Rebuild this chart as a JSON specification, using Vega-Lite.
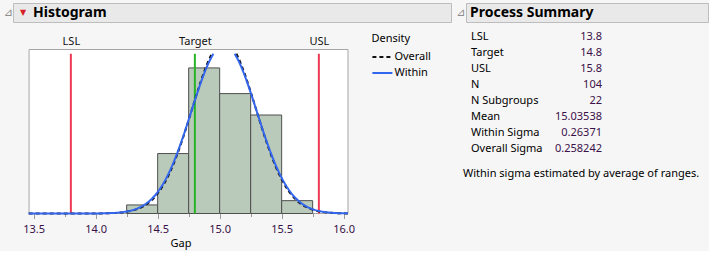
{
  "$schema": "https://vega.github.io/schema/vega-lite/v6.json",
  "background": "#f6f6f6",
  "padding": {"left": 3, "top": 2, "right": 2, "bottom": 2},
  "config": {"font": "Noto Sans", "view": {"stroke": null}},
  "datasets": {
    "bins": [
      {"lo": 14.25, "hi": 14.5, "count": 2},
      {"lo": 14.5, "hi": 14.75, "count": 14},
      {"lo": 14.75, "hi": 15.0, "count": 34},
      {"lo": 15.0, "hi": 15.25, "count": 28},
      {"lo": 15.25, "hi": 15.5, "count": 23},
      {"lo": 15.5, "hi": 15.75, "count": 3}
    ],
    "specs": [
      {"name": "LSL", "value": 13.8},
      {"name": "Target", "value": 14.8},
      {"name": "USL", "value": 15.8}
    ],
    "curves": [
      {"series": "Overall", "seg": "L", "x": 13.46, "y": 0},
      {"series": "Overall", "seg": "L", "x": 13.8, "y": 0.0005},
      {"series": "Overall", "seg": "L", "x": 14.0, "y": 0.013},
      {"series": "Overall", "seg": "L", "x": 14.1, "y": 0.057},
      {"series": "Overall", "seg": "L", "x": 14.2, "y": 0.215},
      {"series": "Overall", "seg": "L", "x": 14.25, "y": 0.394},
      {"series": "Overall", "seg": "L", "x": 14.3, "y": 0.697},
      {"series": "Overall", "seg": "L", "x": 14.35, "y": 1.187},
      {"series": "Overall", "seg": "L", "x": 14.4, "y": 1.948},
      {"series": "Overall", "seg": "L", "x": 14.45, "y": 3.076},
      {"series": "Overall", "seg": "L", "x": 14.5, "y": 4.683},
      {"series": "Overall", "seg": "L", "x": 14.55, "y": 6.866},
      {"series": "Overall", "seg": "L", "x": 14.6, "y": 9.697},
      {"series": "Overall", "seg": "L", "x": 14.65, "y": 13.191},
      {"series": "Overall", "seg": "L", "x": 14.7, "y": 17.283},
      {"series": "Overall", "seg": "L", "x": 14.75, "y": 21.811},
      {"series": "Overall", "seg": "L", "x": 14.8, "y": 26.511},
      {"series": "Overall", "seg": "L", "x": 14.85, "y": 31.044},
      {"series": "Overall", "seg": "L", "x": 14.9, "y": 35.009},
      {"series": "Overall", "seg": "L", "x": 14.936, "y": 37.3},
      {"series": "Overall", "seg": "R", "x": 15.135, "y": 37.3},
      {"series": "Overall", "seg": "R", "x": 15.15, "y": 36.398},
      {"series": "Overall", "seg": "R", "x": 15.2, "y": 32.781},
      {"series": "Overall", "seg": "R", "x": 15.25, "y": 28.437},
      {"series": "Overall", "seg": "R", "x": 15.3, "y": 23.76},
      {"series": "Overall", "seg": "R", "x": 15.35, "y": 19.122},
      {"series": "Overall", "seg": "R", "x": 15.4, "y": 14.823},
      {"series": "Overall", "seg": "R", "x": 15.45, "y": 11.069},
      {"series": "Overall", "seg": "R", "x": 15.5, "y": 7.961},
      {"series": "Overall", "seg": "R", "x": 15.55, "y": 5.515},
      {"series": "Overall", "seg": "R", "x": 15.6, "y": 3.68},
      {"series": "Overall", "seg": "R", "x": 15.65, "y": 2.365},
      {"series": "Overall", "seg": "R", "x": 15.7, "y": 1.465},
      {"series": "Overall", "seg": "R", "x": 15.75, "y": 0.873},
      {"series": "Overall", "seg": "R", "x": 15.8, "y": 0.502},
      {"series": "Overall", "seg": "R", "x": 15.9, "y": 0.148},
      {"series": "Overall", "seg": "R", "x": 16.0, "y": 0.0375},
      {"series": "Overall", "seg": "R", "x": 16.035, "y": 0.02},
      {"series": "Within", "seg": "L", "x": 13.46, "y": 0},
      {"series": "Within", "seg": "L", "x": 13.8, "y": 0.001},
      {"series": "Within", "seg": "L", "x": 14.0, "y": 0.018},
      {"series": "Within", "seg": "L", "x": 14.1, "y": 0.073},
      {"series": "Within", "seg": "L", "x": 14.2, "y": 0.26},
      {"series": "Within", "seg": "L", "x": 14.25, "y": 0.467},
      {"series": "Within", "seg": "L", "x": 14.3, "y": 0.806},
      {"series": "Within", "seg": "L", "x": 14.35, "y": 1.343},
      {"series": "Within", "seg": "L", "x": 14.4, "y": 2.159},
      {"series": "Within", "seg": "L", "x": 14.45, "y": 3.347},
      {"series": "Within", "seg": "L", "x": 14.5, "y": 5.008},
      {"series": "Within", "seg": "L", "x": 14.55, "y": 7.23},
      {"series": "Within", "seg": "L", "x": 14.6, "y": 10.067},
      {"series": "Within", "seg": "L", "x": 14.65, "y": 13.521},
      {"series": "Within", "seg": "L", "x": 14.7, "y": 17.52},
      {"series": "Within", "seg": "L", "x": 14.75, "y": 21.9},
      {"series": "Within", "seg": "L", "x": 14.8, "y": 26.408},
      {"series": "Within", "seg": "L", "x": 14.85, "y": 30.723},
      {"series": "Within", "seg": "L", "x": 14.9, "y": 34.477},
      {"series": "Within", "seg": "L", "x": 14.949, "y": 37.3},
      {"series": "Within", "seg": "R", "x": 15.121, "y": 37.3},
      {"series": "Within", "seg": "R", "x": 15.15, "y": 35.788},
      {"series": "Within", "seg": "R", "x": 15.2, "y": 32.37},
      {"series": "Within", "seg": "R", "x": 15.25, "y": 28.245},
      {"series": "Within", "seg": "R", "x": 15.3, "y": 23.775},
      {"series": "Within", "seg": "R", "x": 15.35, "y": 19.305},
      {"series": "Within", "seg": "R", "x": 15.4, "y": 15.122},
      {"series": "Within", "seg": "R", "x": 15.45, "y": 11.428},
      {"series": "Within", "seg": "R", "x": 15.5, "y": 8.331},
      {"series": "Within", "seg": "R", "x": 15.55, "y": 5.859},
      {"series": "Within", "seg": "R", "x": 15.6, "y": 3.975},
      {"series": "Within", "seg": "R", "x": 15.65, "y": 2.601},
      {"series": "Within", "seg": "R", "x": 15.7, "y": 1.643},
      {"series": "Within", "seg": "R", "x": 15.75, "y": 1.001},
      {"series": "Within", "seg": "R", "x": 15.8, "y": 0.588},
      {"series": "Within", "seg": "R", "x": 15.9, "y": 0.182},
      {"series": "Within", "seg": "R", "x": 16.0, "y": 0.049},
      {"series": "Within", "seg": "R", "x": 16.035, "y": 0.03}
    ],
    "summary": [
      {"row": 1, "label": "LSL", "value": "13.8"},
      {"row": 2, "label": "Target", "value": "14.8"},
      {"row": 3, "label": "USL", "value": "15.8"},
      {"row": 4, "label": "N", "value": "104"},
      {"row": 5, "label": "N Subgroups", "value": "22"},
      {"row": 6, "label": "Mean", "value": "15.03538"},
      {"row": 7, "label": "Within Sigma", "value": "0.26371"},
      {"row": 8, "label": "Overall Sigma", "value": "0.258242"}
    ]
  },
  "spacing": 7.5,
  "vconcat": [
    {
      "spacing": 3,
      "hconcat": [
        {
          "width": 438,
          "height": 19,
          "view": {"fill": "#e9e9e9", "stroke": "#bdbdbd"},
          "data": {"values": [{"t": "Histogram"}]},
          "layer": [
            {
              "mark": {"type": "text", "text": "⊿", "align": "left", "baseline": "middle", "dx": -9.5, "fontSize": 11, "font": "DejaVu Sans", "color": "#8c8c8c"},
              "encoding": {"x": {"datum": 0, "type": "quantitative", "scale": {"domain": [0, 1]}, "axis": null}}
            },
            {
              "mark": {"type": "text", "text": "▼", "align": "center", "baseline": "middle", "dx": 10, "fontSize": 8, "font": "DejaVu Sans", "color": "#d81f26"},
              "encoding": {"x": {"datum": 0, "type": "quantitative"}}
            },
            {
              "mark": {"type": "text", "align": "left", "baseline": "middle", "dx": 20, "fontSize": 14, "fontWeight": "bold", "color": "#000000"},
              "encoding": {"x": {"datum": 0, "type": "quantitative"}, "text": {"field": "t"}}
            }
          ]
        },
        {
          "width": 242,
          "height": 19,
          "view": {"fill": "#e9e9e9", "stroke": "#bdbdbd"},
          "data": {"values": [{"t": "Process Summary"}]},
          "layer": [
            {
              "mark": {"type": "text", "text": "⊿", "align": "left", "baseline": "middle", "dx": -10, "fontSize": 11, "font": "DejaVu Sans", "color": "#8c8c8c"},
              "encoding": {"x": {"datum": 0, "type": "quantitative", "scale": {"domain": [0, 1]}, "axis": null}}
            },
            {
              "mark": {"type": "text", "align": "left", "baseline": "middle", "dx": 4, "fontSize": 14, "fontWeight": "bold", "color": "#000000"},
              "encoding": {"x": {"datum": 0, "type": "quantitative"}, "text": {"field": "t"}}
            }
          ]
        }
      ]
    },
    {
      "spacing": 31,
      "hconcat": [
        {
          "width": 335,
          "height": 164,
          "resolve": {"axis": {"x": "independent"}, "scale": {"color": "independent"}},
          "layer": [
            {
              "data": {"values": [{"x0": 13.463, "x1": 16.035, "y0": 0, "y1": 38.3}]},
              "mark": {"type": "rect", "fill": "#ffffff", "stroke": "#a6a6a6", "strokeWidth": 1},
              "encoding": {
                "x": {"field": "x0", "type": "quantitative", "scale": {"domain": [13.3334, 16.035], "nice": false, "zero": false}, "axis": null},
                "x2": {"field": "x1"},
                "y": {"field": "y0", "type": "quantitative", "scale": {"domain": [0, 38.3], "nice": false}, "axis": null},
                "y2": {"field": "y1"}
              }
            },
            {
              "data": {"name": "bins"},
              "mark": {"type": "rect", "fill": "#b9c9ba", "stroke": "#4f4f4f", "strokeWidth": 1},
              "encoding": {
                "x": {
                  "field": "lo", "type": "quantitative",
                  "axis": {
                    "orient": "bottom", "title": "Gap",
                    "values": [13.5, 13.75, 14.0, 14.25, 14.5, 14.75, 15.0, 15.25, 15.5, 15.75, 16.0],
                    "labelExpr": "datum.value % 0.5 == 0 ? format(datum.value, '.1f') : ''",
                    "tickSize": {"condition": {"test": "datum.value % 0.5 == 0", "value": 5}, "value": 3},
                    "tickColor": "#9a9a9a", "domain": false, "grid": false,
                    "labelFontSize": 11, "labelColor": "#3a1048", "labelPadding": 5,
                    "labelOverlap": false, "labelFlush": false,
                    "titleFontSize": 11, "titleFontWeight": "normal", "titleColor": "#000000", "titlePadding": 3
                  }
                },
                "x2": {"field": "hi"},
                "y": {"field": "count", "type": "quantitative"},
                "y2": {"datum": 0}
              }
            },
            {
              "data": {"name": "specs"},
              "mark": {"type": "rule", "strokeWidth": 2},
              "encoding": {
                "x": {
                  "field": "value", "type": "quantitative",
                  "axis": {
                    "orient": "top", "title": null, "values": [13.8, 14.8, 15.8],
                    "labelExpr": "datum.value == 13.8 ? 'LSL' : (datum.value == 14.8 ? 'Target' : 'USL')",
                    "ticks": false, "domain": false, "grid": false,
                    "labelFontSize": 11, "labelColor": "#111111", "labelPadding": 3.5,
                    "labelOverlap": false, "labelFlush": false
                  }
                },
                "y": {"datum": 37.3},
                "y2": {"datum": 0},
                "color": {
                  "field": "name", "type": "nominal",
                  "scale": {"domain": ["LSL", "Target", "USL"], "range": ["#ee3b55", "#27b427", "#ee3b55"]},
                  "legend": null
                }
              }
            },
            {
              "data": {"name": "curves"},
              "mark": {"type": "line", "strokeWidth": 2, "interpolate": "monotone"},
              "encoding": {
                "x": {"field": "x", "type": "quantitative", "axis": null},
                "y": {"field": "y", "type": "quantitative"},
                "detail": {"field": "seg"},
                "color": {
                  "field": "series", "type": "nominal",
                  "scale": {"domain": ["Overall", "Within"], "range": ["#111111", "#3366ee"]},
                  "legend": {
                    "title": "Density", "orient": "none", "legendX": 358.4, "legendY": -17,
                    "symbolType": "stroke", "symbolSize": 400, "symbolStrokeWidth": 2,
                    "labelFontSize": 11, "labelColor": "#000000", "labelOffset": 1,
                    "titleFontSize": 11, "titleFontWeight": "normal", "titleColor": "#000000",
                    "titlePadding": 2.5, "rowPadding": -4,
                    "encode": {
                      "symbols": {
                        "update": {
                          "strokeDash": {"signal": "datum.value === 'Overall' ? [4, 3] : [1, 0]"}
                        }
                      }
                    }
                  }
                },
                "strokeDash": {
                  "field": "series", "type": "nominal",
                  "scale": {"domain": ["Overall", "Within"], "range": [[4, 3], [1, 0]]},
                  "legend": null
                }
              }
            }
          ]
        },
        {
          "width": 131,
          "height": 104,
          "data": {"name": "summary"},
          "title": {
            "text": "Within sigma estimated by average of ranges.",
            "orient": "bottom", "anchor": "start", "fontSize": 11, "fontWeight": "normal",
            "color": "#000000", "dx": -8, "offset": 13.5
          },
          "layer": [
            {
              "mark": {"type": "text", "align": "left", "baseline": "middle", "fontSize": 11, "color": "#000000"},
              "encoding": {
                "x": {"datum": 0, "type": "quantitative", "scale": {"domain": [0, 1]}, "axis": null},
                "y": {"field": "row", "type": "quantitative", "scale": {"domain": [1.767, 8.251], "reverse": true, "nice": false, "zero": false}, "axis": null},
                "text": {"field": "label"}
              }
            },
            {
              "mark": {"type": "text", "align": "right", "baseline": "middle", "fontSize": 11, "color": "#3a1048"},
              "encoding": {
                "x": {"datum": 1, "type": "quantitative"},
                "y": {"field": "row", "type": "quantitative"},
                "text": {"field": "value"}
              }
            }
          ]
        }
      ]
    }
  ]
}
